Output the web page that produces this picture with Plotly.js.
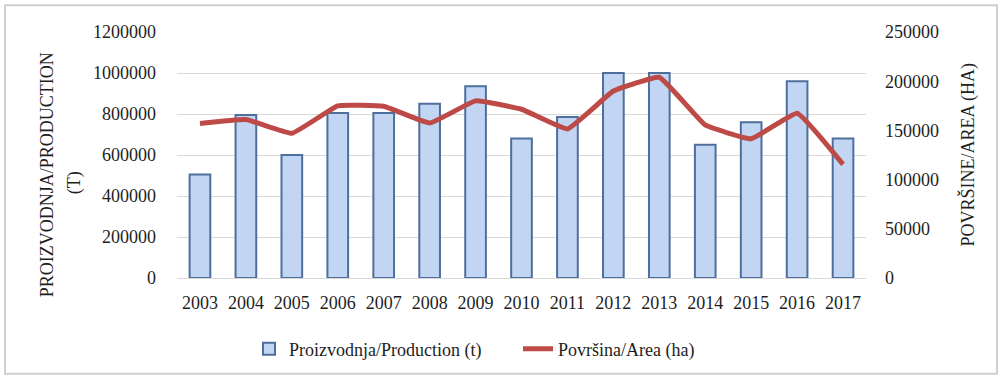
<!DOCTYPE html>
<html>
<head>
<meta charset="utf-8">
<script src="https://cdn.plot.ly/plotly-3.0.1.min.js"></script>
<style>html,body{margin:0;padding:0;background:#fff;}#chart{width:1006px;height:379px;}</style>
</head>
<body>
<div id="chart"></div>
<script>
const years = ['2003','2004','2005','2006','2007','2008','2009','2010','2011','2012','2013','2014','2015','2016','2017'];
const production = [505000, 795000, 600000, 805000, 805000, 850000, 935000, 680000, 785000, 1000000, 1000000, 650000, 760000, 960000, 680000];
const area = [157000, 161000, 147000, 175000, 174500, 157500, 180000, 171500, 151500, 190000, 204000, 155500, 141500, 167500, 115500];
const leftTicks = [0, 200000, 400000, 600000, 800000, 1000000, 1200000];
const rightTicks = [0, 50000, 100000, 150000, 200000, 250000];

const W = 1006, H = 379;
const m = {l: 177, r: 140, t: 32, b: 98};
const pw = W - m.l - m.r, ph = H - m.t - m.b;
const px = x => (x - m.l) / pw;
const py = y => (H - m.b - y) / ph;

const font = {family: '"Liberation Serif", "DejaVu Serif", serif', size: 18, color: '#1e1e1e'};

const traces = [
  {
    type: 'bar', x: years, y: production, name: 'Proizvodnja/Production (t)',
    marker: {color: '#c2d6f3', line: {color: '#4e6f9c', width: 2}},
    width: 0.45, legend: 'legend'
  },
  {
    type: 'scatter', mode: 'lines', x: years, y: area, yaxis: 'y2', name: 'Površina/Area (ha)',
    line: {color: '#bd4a47', width: 5, shape: 'spline', smoothing: 0.3}, legend: 'legend2'
  }
];

const layout = {
  width: W, height: H,
  margin: m,
  paper_bgcolor: '#fff', plot_bgcolor: '#fff',
  font: font,
  showlegend: true,
  legend: {x: px(249), xanchor: 'left', y: py(353), yanchor: 'middle', font: font, bgcolor: 'rgba(0,0,0,0)'},
  legend2: {x: px(518), xanchor: 'left', y: py(353), yanchor: 'middle', font: font, bgcolor: 'rgba(0,0,0,0)'},
  xaxis: {
    type: 'category', showgrid: false, zeroline: false,
    showline: true, linecolor: '#d9d9d9', linewidth: 1,
    ticks: '', tickfont: font, ticklabelstandoff: 8
  },
  yaxis: {
    range: [0, 1200000], tickvals: leftTicks, ticktext: leftTicks.map(String),
    showgrid: true, gridcolor: '#d9d9d9', gridwidth: 1, zeroline: false,
    tickfont: font, ticklabelstandoff: 20
  },
  yaxis2: {
    overlaying: 'y', side: 'right', range: [0, 250000], tickvals: rightTicks, ticktext: rightTicks.map(String),
    showgrid: false, zeroline: false, tickfont: font, ticklabelstandoff: 18
  },
  annotations: [
    {text: 'PROIZVODNJA/PRODUCTION', xref: 'paper', yref: 'paper', x: px(47), y: py(177), textangle: -90,
     showarrow: false, xanchor: 'center', yanchor: 'middle', font: font},
    {text: '(T)', xref: 'paper', yref: 'paper', x: px(74), y: py(185), textangle: -90,
     showarrow: false, xanchor: 'center', yanchor: 'middle', font: font},
    {text: 'POVRŠINE/AREA (HA)', xref: 'paper', yref: 'paper', x: px(968), y: py(156), textangle: -90,
     showarrow: false, xanchor: 'center', yanchor: 'middle', font: font}
  ],
  shapes: [{
    type: 'rect', xref: 'paper', yref: 'paper',
    x0: px(5), x1: px(997), y0: py(378), y1: py(5),
    line: {color: '#d0d0d0', width: 2}, fillcolor: 'rgba(0,0,0,0)', layer: 'below'
  }]
};

Plotly.newPlot('chart', traces, layout, {staticPlot: true});
</script>
</body>
</html>
